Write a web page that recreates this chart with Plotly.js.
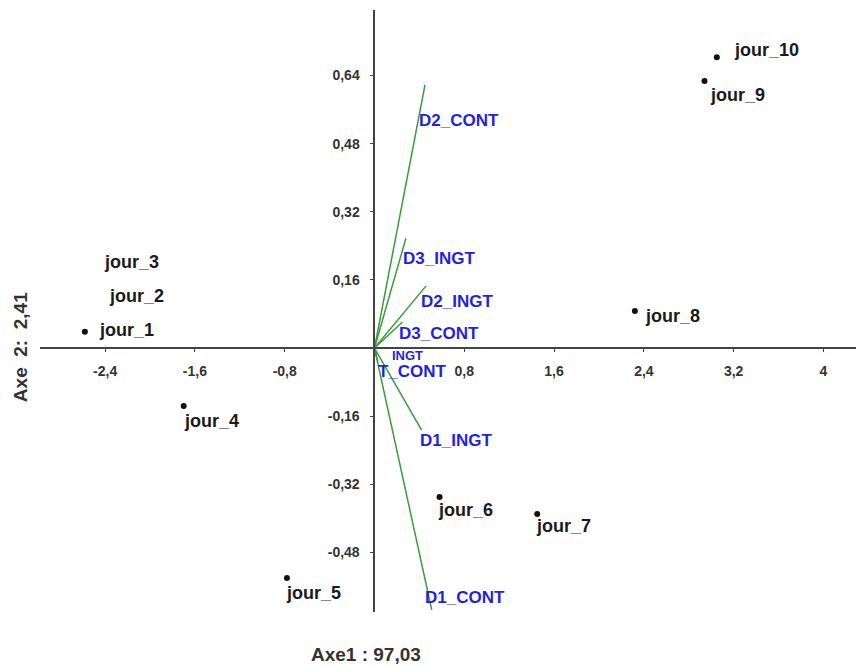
<!DOCTYPE html>
<html>
<head>
<meta charset="utf-8">
<script src="https://cdn.plot.ly/plotly-3.0.1.min.js"></script>
<style>html,body{margin:0;padding:0;background:#fff;}#chart{width:856px;height:666px;}</style>
</head>
<body>
<div id="chart"></div>
<script>
// Individuals (days)
const dayNames = ["jour_1","jour_2","jour_3","jour_4","jour_5","jour_6","jour_7","jour_8","jour_9","jour_10"];
const dayAxe1  = [-2.58, -2.38, -2.43, -1.70, -0.78, 0.58, 1.45, 2.32, 2.94, 3.05];
const dayAxe2  = [0.038, 0.122, 0.202, -0.136, -0.54, -0.35, -0.39, 0.087, 0.627, 0.683];
const dayDotShown = [true, false, false, true, true, true, true, true, true, true];

// Variables (vectors)
const varNames = ["D2_CONT","D3_INGT","D2_INGT","D3_CONT","INGT","T_CONT","D1_INGT","D1_CONT"];
const varAxe1  = [0.45, 0.28, 0.46, 0.25, 0.02, 0.03, 0.42, 0.51];
const varAxe2  = [0.618, 0.258, 0.146, 0.061, -0.02, -0.033, -0.193, -0.615];

// Axis ticks
const xTickVals = [-2.4, -1.6, -0.8, 0.8, 1.6, 2.4, 3.2, 4];
const xTickText = ["-2,4", "-1,6", "-0,8", "0,8", "1,6", "2,4", "3,2", "4"];
const yTickVals = [0.64, 0.48, 0.32, 0.16, -0.16, -0.32, -0.48];
const yTickText = ["0,64", "0,48", "0,32", "0,16", "-0,16", "-0,32", "-0,48"];

const xTitle = "Axe1 : 97,03";
const yTitle = "Axe\u00a0\u00a02:\u00a0\u00a02,41";

// label offsets (pixels) – style only
const dayLabelShift = [[12,2],[0,0],[0,0],[-2,-15],[-3,-15],[-4,-13],[-3,-12],[8,-5],[4,-14],[15,7]];
const varLabelShift = [[-8,-36],[-5,-20],[-7,-16],[-6,-11],[13,1],[-2,-9],[-4,-10],[-9,12]];
const varLabelSize  = [17,17,17,17,13,17,17,17];

const FONT = "Liberation Sans, Arial, sans-serif";
const BLUE = "#1f1fe6";
const GREEN = "#3a9c3a";

const lx = [], ly = [];
for (let i = 0; i < varNames.length; i++) {
  lx.push(0, varAxe1[i], null);
  ly.push(0, varAxe2[i], null);
}

const dotsX = [], dotsY = [];
dayNames.forEach((n,i)=>{ if (dayDotShown[i]) { dotsX.push(dayAxe1[i]); dotsY.push(dayAxe2[i]); } });

const traces = [
  {x: lx, y: ly, mode: "lines", type: "scatter", line: {color: GREEN, width: 1.5}, hoverinfo: "skip", cliponaxis: false},
  {x: dotsX, y: dotsY, mode: "markers", type: "scatter", marker: {color: "#111", size: 6}, cliponaxis: false}
];

const annotations = [];
dayNames.forEach((n,i)=>{
  annotations.push({x: dayAxe1[i], y: dayAxe2[i], xref: "x", yref: "y", text: n, showarrow: false,
    xanchor: "left", yanchor: "middle", xshift: dayLabelShift[i][0], yshift: dayLabelShift[i][1],
    font: {family: FONT, size: 18, color: "#1a1a1a", weight: "bold"}});
});
varNames.forEach((n,i)=>{
  annotations.push({x: varAxe1[i], y: varAxe2[i], xref: "x", yref: "y", text: n, showarrow: false,
    xanchor: "left", yanchor: "middle", xshift: varLabelShift[i][0], yshift: varLabelShift[i][1],
    font: {family: FONT, size: varLabelSize[i], color: BLUE, weight: "bold"}});
});
// axis titles
annotations.push({xref: "paper", yref: "paper", x: 0.3995, y: -0.0714, text: xTitle, showarrow: false,
  xanchor: "center", yanchor: "middle", font: {family: FONT, size: 19, color: "#333", weight: "bold"}});
annotations.push({xref: "paper", yref: "paper", x: -0.0245, y: 0.44, text: yTitle, showarrow: false, textangle: -90,
  xanchor: "center", yanchor: "middle", font: {family: FONT, size: 19, color: "#333", weight: "bold"}});

const xr = [-2.98, 4.29], yr = [-0.62, 0.794];
const layout = {
  width: 856, height: 666,
  margin: {l: 40, r: 0, t: 10, b: 54},
  paper_bgcolor: "#fff", plot_bgcolor: "#fff",
  showlegend: false,
  font: {family: FONT, color: "#333"},
  xaxis: {
    range: xr, anchor: "free", position: (0 - yr[0]) / (yr[1] - yr[0]),
    showline: true, linecolor: "#444", linewidth: 2,
    ticks: "outside", ticklen: 3, tickwidth: 1, tickcolor: "#444",
    tickvals: xTickVals, ticktext: xTickText,
    tickfont: {family: FONT, size: 14, color: "#333", weight: "bold"},
    ticklabelstandoff: 7,
    showgrid: false, zeroline: false
  },
  yaxis: {
    range: yr, anchor: "free", position: (0 - xr[0]) / (xr[1] - xr[0]),
    showline: true, linecolor: "#444", linewidth: 2,
    ticks: "outside", ticklen: 3, tickwidth: 1, tickcolor: "#444",
    tickvals: yTickVals, ticktext: yTickText,
    tickfont: {family: FONT, size: 14, color: "#333", weight: "bold"},
    ticklabelstandoff: 8,
    showgrid: false, zeroline: false
  },
  annotations: annotations
};

Plotly.newPlot("chart", traces, layout, {staticPlot: true, displayModeBar: false});
</script>
</body>
</html>
